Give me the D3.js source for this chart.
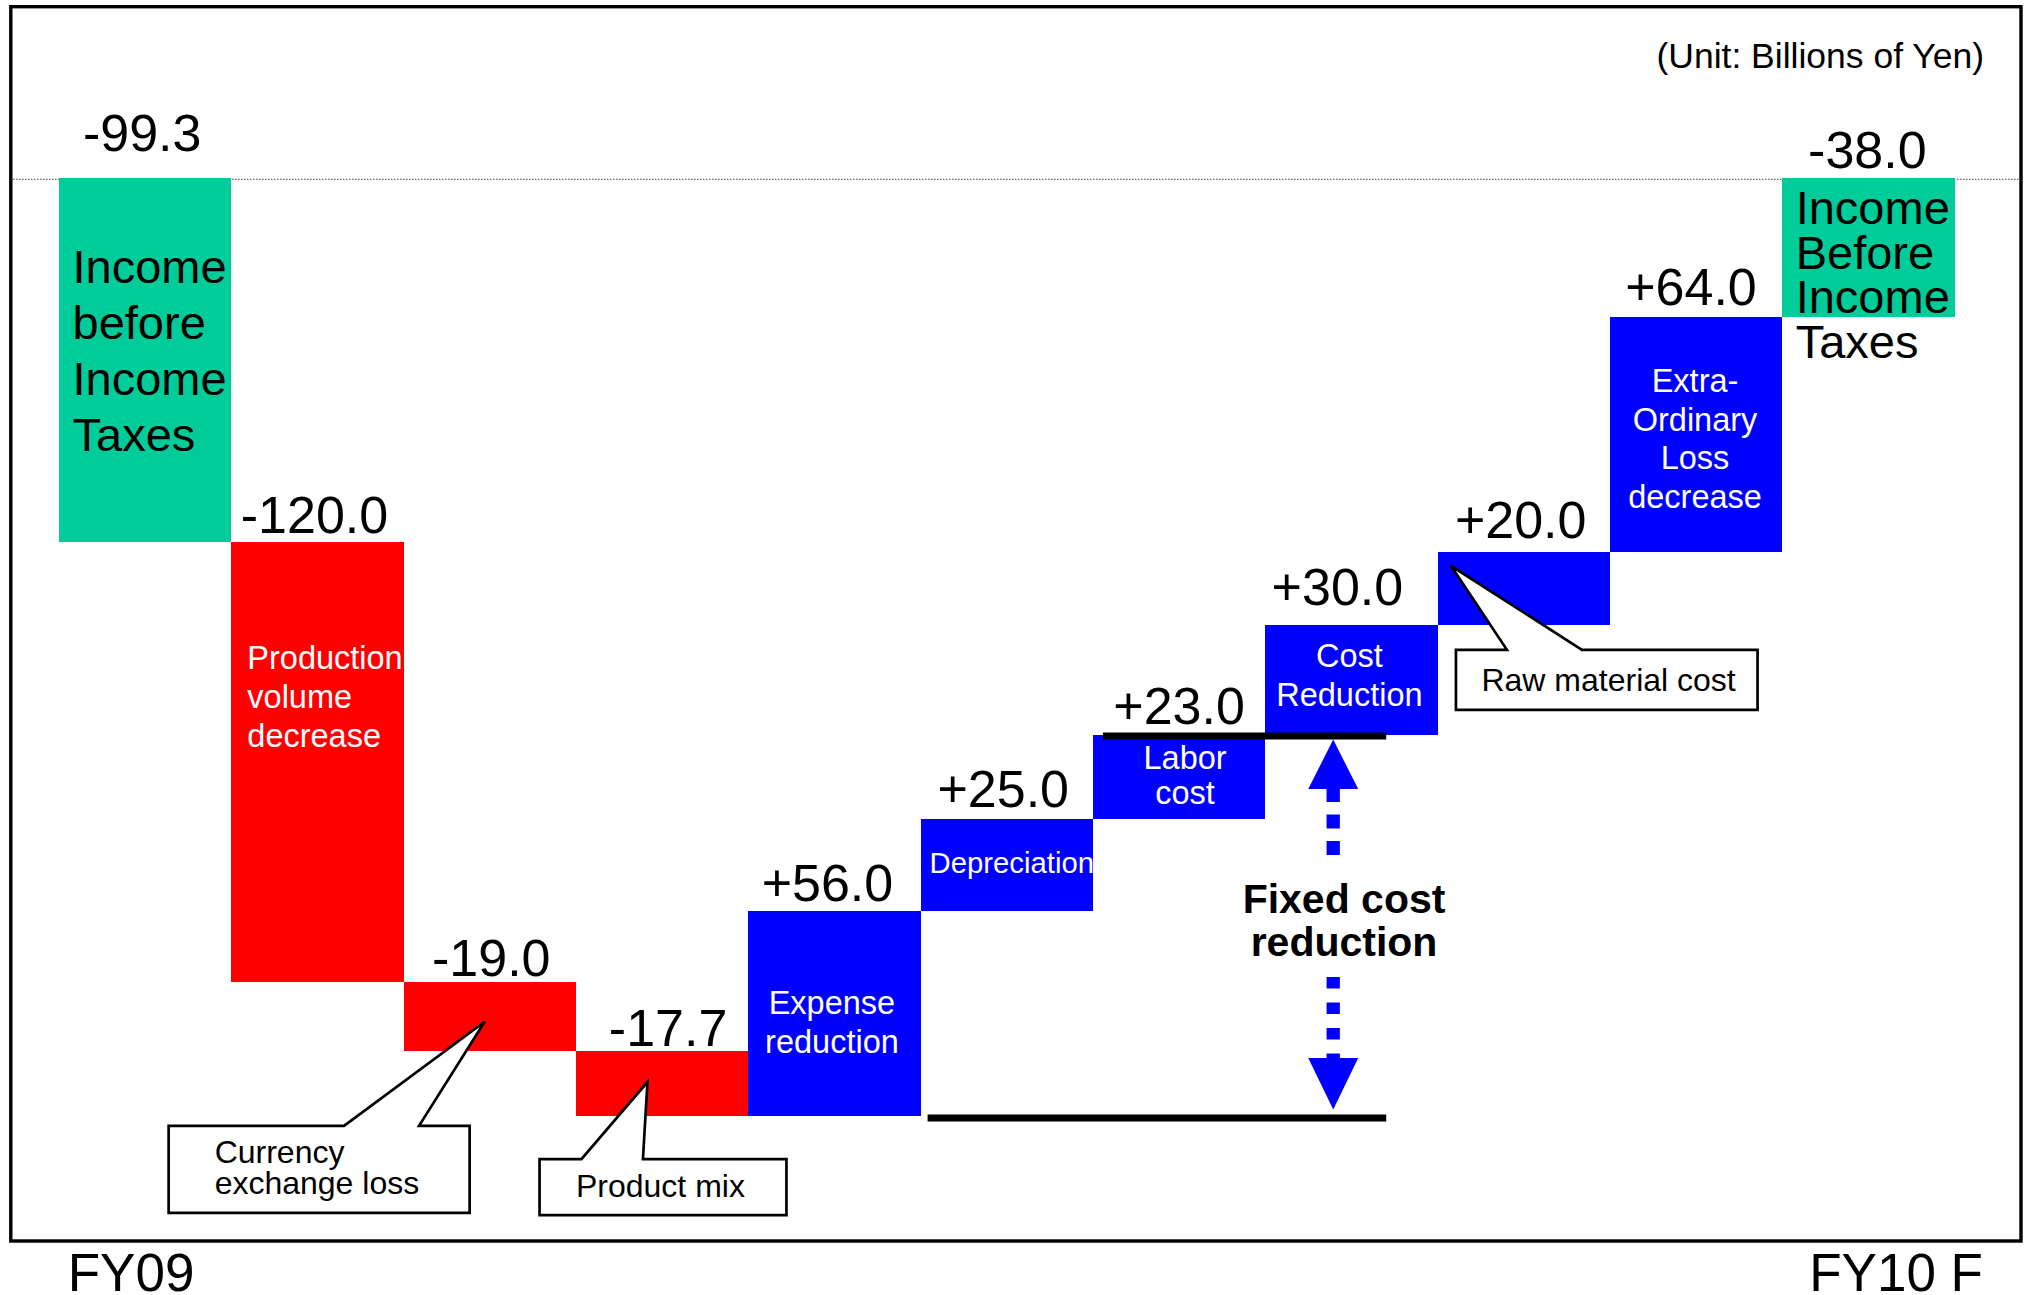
<!DOCTYPE html>
<html>
<head>
<meta charset="utf-8">
<script src="https://cdn.jsdelivr.net/npm/d3@7"></script>
<style>
  html, body { margin: 0; padding: 0; background: #fff; }
  svg { display: block; font-family: "Liberation Sans", Arial, Helvetica, sans-serif; }
</style>
</head>
<body>
<svg id="chart" width="2027" height="1295"></svg>
<script>
// ---- Data: income bridge FY09 -> FY10 forecast (billions of yen) ----
const categories = [
  "Income before Income Taxes (FY09)",
  "Production volume decrease",
  "Currency exchange loss",
  "Product mix",
  "Expense reduction",
  "Depreciation",
  "Labor cost",
  "Cost Reduction",
  "Raw material cost",
  "Extra-Ordinary Loss decrease",
  "Income Before Income Taxes (FY10 F)"
];
const values = [-99.3, -120.0, -19.0, -17.7, 56.0, 25.0, 23.0, 30.0, 20.0, 64.0, -38.0];
const kinds  = ["total", "neg", "neg", "neg", "pos", "pos", "pos", "pos", "pos", "pos", "total"];

// text written inside the bars
const barText = [
  ["Income", "before", "Income", "Taxes"],
  ["Production", "volume", "decrease"],
  [],
  [],
  ["Expense", "reduction"],
  ["Depreciation"],
  ["Labor", "cost"],
  ["Cost", "Reduction"],
  [],
  ["Extra-", "Ordinary", "Loss", "decrease"],
  ["Income", "Before", "Income", "Taxes"]
];
// items described in speech-bubble callouts (keyed by bar index)
const calloutText = { 2: ["Currency", "exchange loss"], 3: ["Product mix"], 8: ["Raw material cost"] };
const periodLabels = ["FY09", "FY10 F"];
const unitLabel = "(Unit: Billions of Yen)";
const bracketTitle = ["Fixed cost", "reduction"];
const bracketItems = [4, 5, 6];   // expense, depreciation, labor

// ---- Running totals ----
let run = 0;
const steps = values.map((v, i) => {
  let s, e;
  if (kinds[i] === "total") { s = 0; e = v; run = v; }
  else { s = run; e = run + v; run = e; }
  return { i, cat: categories[i], v, kind: kinds[i], s, e };
});

const svg = d3.select("#chart");
const colors = { total: "#00CC99", neg: "#FF0000", pos: "#0000FF" };

const x = d3.scaleBand().domain(categories).range([59, 1954.5]).padding(0);
const minCum = d3.min(steps, d => Math.min(d.s, d.e));
const y = d3.scaleLinear().domain([0, minCum]).range([178, 1116.3]);
const bw = x.bandwidth();
const topOf = d => y(Math.max(d.s, d.e));

// dotted zero reference line
svg.append("line")
  .attr("x1", 13).attr("x2", 2019)
  .attr("y1", y(0) + 1.3).attr("y2", y(0) + 1.3)
  .attr("stroke", "#444").attr("stroke-width", 1)
  .attr("stroke-dasharray", "1.5,1.5");

// bars
svg.append("g").selectAll("rect").data(steps).join("rect")
  .attr("x", d => x(d.cat))
  .attr("y", d => topOf(d))
  .attr("width", bw)
  .attr("height", d => Math.abs(y(d.s) - y(d.e)))
  .attr("fill", d => colors[d.kind])
  .attr("shape-rendering", "crispEdges");

// text inside bars
const textLayout = {
  0:  { anchor: "start",  dx: 13.5, dy: 105,   lh: 56,   size: 47,   fill: "#000" },
  1:  { anchor: "start",  dx: 16,   dy: 127.5, lh: 38.7, size: 32.5, fill: "#fff" },
  4:  { anchor: "middle", dx: -2.5, dy: 103,   lh: 38.7, size: 32.5, fill: "#fff" },
  5:  { anchor: "middle", dx: 5,    dy: 53.5,  lh: 0,    size: 29.3, fill: "#fff" },
  6:  { anchor: "middle", dx: 6,    dy: 33.7,  lh: 35,   size: 32.5, fill: "#fff" },
  7:  { anchor: "middle", dx: -2,   dy: 42,    lh: 39,   size: 32.5, fill: "#fff" },
  9:  { anchor: "middle", dx: -1,   dy: 75,    lh: 38.5, size: 32.5, fill: "#fff" },
  10: { anchor: "start",  dx: 13.5, dy: 46,    lh: 44.6, size: 47,   fill: "#000" }
};
const inner = svg.append("g");
steps.forEach(d => {
  const lay = textLayout[d.i];
  if (!lay || !barText[d.i].length) return;
  const bx = lay.anchor === "middle" ? x(d.cat) + bw / 2 + lay.dx : x(d.cat) + lay.dx;
  const t = inner.append("text")
    .attr("text-anchor", lay.anchor)
    .attr("font-size", lay.size)
    .attr("fill", lay.fill);
  barText[d.i].forEach((line, k) => {
    t.append("tspan").attr("x", bx).attr("y", topOf(d) + lay.dy + k * lay.lh).text(line);
  });
});

// value labels above each bar
const fmt = v => (v > 0 ? "+" : "-") + Math.abs(v).toFixed(1);
const labelNudge = [
  [-3, 27], [-3, 9], [1.5, 5.5], [6, 5], [-7, 10], [-3.5, 12.7],
  [0, 11], [-14, 20], [-3, 14], [-5, 12], [-1, 10]
];
svg.append("g").selectAll("text").data(steps).join("text")
  .attr("x", d => x(d.cat) + bw / 2 + labelNudge[d.i][0])
  .attr("y", d => topOf(d) - labelNudge[d.i][1])
  .attr("text-anchor", "middle")
  .attr("font-size", 52)
  .attr("fill", "#000")
  .text(d => fmt(d.v));

// fixed cost reduction bracket: two rules and a dashed double arrow
const firstItem = steps[bracketItems[0]];
const lastItem = steps[bracketItems[bracketItems.length - 1]];
const nextCat = categories[bracketItems[bracketItems.length - 1] + 1];
const ruleRight = x(nextCat) + 121;
const yHigh = y(lastItem.e), yLow = y(firstItem.s);
const br = svg.append("g");
br.append("line")
  .attr("x1", x(categories[bracketItems[2]]) + 10).attr("x2", ruleRight)
  .attr("y1", yHigh + 1).attr("y2", yHigh + 1)
  .attr("stroke", "#000").attr("stroke-width", 7);
br.append("line")
  .attr("x1", x(categories[bracketItems[1]]) + 7).attr("x2", ruleRight)
  .attr("y1", yLow + 1.7).attr("y2", yLow + 1.7)
  .attr("stroke", "#000").attr("stroke-width", 7);

const ax = x(nextCat) + 68;
const upTip = yHigh + 4.5, upBase = upTip + 49.5;
const dnTip = yLow - 6.8, dnBase = dnTip - 51.5;
br.append("path")
  .attr("d", `M${ax},${upTip}L${ax + 25},${upBase}L${ax - 25},${upBase}Z`)
  .attr("fill", "#0000FF");
br.append("path")
  .attr("d", `M${ax},${dnTip}L${ax + 25},${dnBase}L${ax - 25},${dnBase}Z`)
  .attr("fill", "#0000FF");
br.append("line")
  .attr("x1", ax).attr("x2", ax).attr("y1", upBase - 1).attr("y2", upBase + 67)
  .attr("stroke", "#0000FF").attr("stroke-width", 13.3)
  .attr("stroke-dasharray", "14,12.5");
br.append("line")
  .attr("x1", ax).attr("x2", ax).attr("y1", dnBase - 81).attr("y2", dnBase + 1)
  .attr("stroke", "#0000FF").attr("stroke-width", 13.3)
  .attr("stroke-dasharray", "11.5,14");
const bt = br.append("text")
  .attr("text-anchor", "middle").attr("font-size", 41).attr("font-weight", "bold").attr("fill", "#000");
bracketTitle.forEach((line, k) => {
  bt.append("tspan").attr("x", ax + 10.8).attr("y", upBase + 123.5 + k * 43.5).text(line);
});

// speech-bubble callouts for the items without room inside their bars
const calloutGeom = {
  2: { tip: [81, 40],     box: [-235, 144, 66, 231],         base: [-59.6, 15.4], text: [46, 37],     lh: 31 },
  3: { tip: [71.5, 30.6], box: [-36.4, 107.6, 210.5, 163.6], base: [5.5, 67],     text: [36.4, 38],   lh: 31 },
  8: { tip: [13.4, 14],   box: [18.4, 98, 320, 158],         base: [69.4, 144.4], text: [25.5, 40.7], lh: 31 }
};
const co = svg.append("g");
Object.keys(calloutGeom).forEach(key => {
  const i = +key, g = calloutGeom[i], d = steps[i];
  const x0 = x(d.cat), t0 = topOf(d);
  const L = x0 + g.box[0], T = t0 + g.box[1], R = x0 + g.box[2], B = t0 + g.box[3];
  const p = `M${L},${T}L${x0 + g.base[0]},${T}L${x0 + g.tip[0]},${t0 + g.tip[1]}` +
            `L${x0 + g.base[1]},${T}L${R},${T}L${R},${B}L${L},${B}Z`;
  co.append("path").attr("d", p)
    .attr("fill", "#fff").attr("stroke", "#000").attr("stroke-width", 2.7)
    .attr("stroke-linejoin", "miter");
  const t = co.append("text").attr("font-size", 32).attr("fill", "#000");
  calloutText[i].forEach((line, k) => {
    t.append("tspan").attr("x", L + g.text[0]).attr("y", T + g.text[1] + k * g.lh).text(line);
  });
});

// outer frame
svg.append("rect")
  .attr("x", 10.8).attr("y", 6.7).attr("width", 2010.2).attr("height", 1234.3)
  .attr("fill", "none").attr("stroke", "#000").attr("stroke-width", 3.4);

// unit note
svg.append("text")
  .attr("x", 1984).attr("y", 68).attr("text-anchor", "end")
  .attr("font-size", 35.5).attr("fill", "#000").text(unitLabel);

// period labels beneath the frame
svg.append("text").attr("x", 67.7).attr("y", 1290.5)
  .attr("font-size", 53).attr("fill", "#000").text(periodLabels[0]);
svg.append("text").attr("x", 1983).attr("y", 1290.5).attr("text-anchor", "end")
  .attr("font-size", 53).attr("fill", "#000").text(periodLabels[1]);
</script>
</body>
</html>
